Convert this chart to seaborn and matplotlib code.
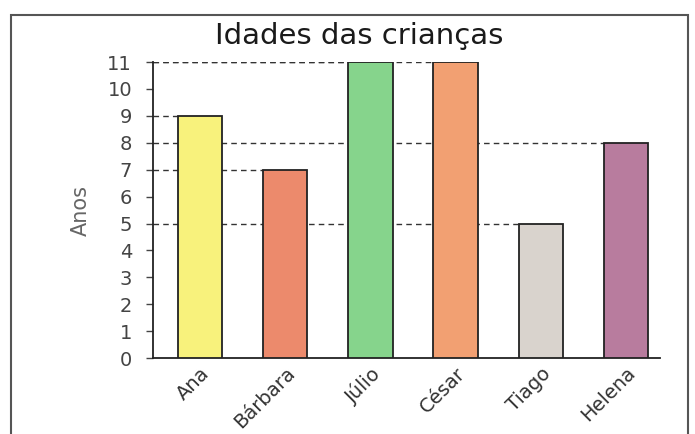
import matplotlib
matplotlib.use("Agg")
import matplotlib.pyplot as plt
import seaborn as sns
import pandas as pd
from matplotlib.patches import Rectangle

criancas = ["Ana", "Bárbara", "Júlio", "César", "Tiago", "Helena"]
idades = [9, 7, 11, 11, 5, 8]
cores = ["#f8f27c", "#ec8a6c", "#86d48c", "#f2a072", "#d9d3cd", "#b87c9e"]
yticks = list(range(0, 12))

sns.set_theme(style="white")
plt.rcParams["font.family"] = ["DejaVu Sans"]

df = pd.DataFrame({"crianca": criancas, "idade": idades})

fig = plt.figure(figsize=(6.95, 4.34), dpi=100)
ax = fig.add_axes([0.220, 0.175, 0.730, 0.682])

bw = 0.52
sns.barplot(data=df, x="crianca", y="idade", hue="crianca", palette=cores,
            legend=False, width=bw, edgecolor="#222222", linewidth=1.3,
            saturation=1, ax=ax, zorder=3)

xleft = -0.55
for i, v in enumerate(idades):
    ax.hlines(v, xleft, i - bw / 2, colors="#333333", linestyles=(0, (4, 3)),
              linewidth=1.0, zorder=1)

ax.set_xlim(xleft, 5.4)
ax.set_ylim(0, 11)
ax.set_yticks(yticks)
ax.set_yticklabels([str(t) for t in yticks], fontsize=14, color="#444444")
ax.tick_params(axis="y", direction="out", length=5, width=1, color="#444444",
               left=True, pad=10)
ax.tick_params(axis="x", length=0, pad=4)
for lab in ax.get_xticklabels():
    lab.set_rotation(45)
    lab.set_ha("right")
    lab.set_rotation_mode("anchor")
    lab.set_fontsize(14)
    lab.set_color("#333333")

ax.set_xlabel("")
ax.set_ylabel("Anos", fontsize=15, color="#666666", labelpad=12)
ax.set_title("Idades das crianças", fontsize=21, color="#1a1a1a", pad=13,
             x=0.406)

sns.despine(ax=ax, top=True, right=True)
for s in ["left", "bottom"]:
    ax.spines[s].set_color("#222222")
    ax.spines[s].set_linewidth(1.3)

fig.patches.append(Rectangle((11 / 695, -0.05), (688 - 11) / 695, 1.05 - 15 / 434,
                             transform=fig.transFigure, fill=False,
                             edgecolor="#555555", linewidth=1.5))

fig.savefig("out.png", dpi=100)
